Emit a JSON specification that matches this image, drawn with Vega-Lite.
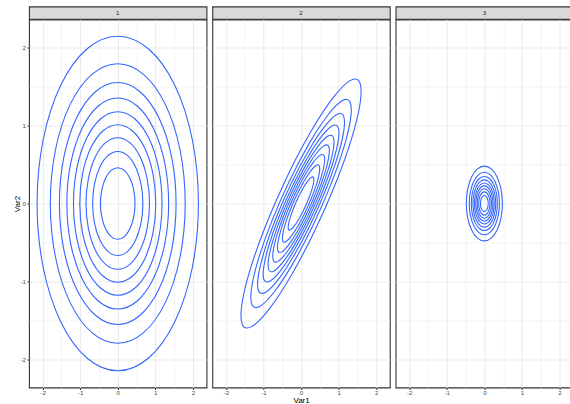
{
  "$schema": "https://vega.github.io/schema/vega-lite/v6.json",
  "padding": {"left": 12, "top": 5.5, "right": 0, "bottom": 0},
  "config": {
    "font": "Liberation Sans",
    "view": {"stroke": "#333333", "strokeWidth": 1.1},
    "axis": {
      "domain": false,
      "grid": true,
      "gridColor": "#EBEBEB",
      "tickColor": "#333333",
      "tickSize": 2,
      "tickWidth": 1,
      "labelFont": "Liberation Sans",
      "labelFontSize": 6.2,
      "labelColor": "#4D4D4D",
      "titleFont": "Liberation Sans",
      "titleFontSize": 8,
      "titleFontWeight": "normal",
      "titleColor": "#000000"
    },
    "axisX": {"labelPadding": 0.3, "titlePadding": 0},
    "axisY": {"labelPadding": 1.5, "titlePadding": 0.7, "titleBaseline": "alphabetic"}
  },
  "datasets": {
    "p1": [
      {"level":1,"i":0,"Var1":2.146,"Var2":0},{"level":1,"i":1,"Var1":1.9826,"Var2":0.8212},{"level":1,"i":2,"Var1":1.5174,"Var2":1.5174},{"level":1,"i":3,"Var1":0.8212,"Var2":1.9826},
      {"level":1,"i":4,"Var1":0,"Var2":2.146},{"level":1,"i":5,"Var1":-0.8212,"Var2":1.9826},{"level":1,"i":6,"Var1":-1.5174,"Var2":1.5174},{"level":1,"i":7,"Var1":-1.9826,"Var2":0.8212},
      {"level":1,"i":8,"Var1":-2.146,"Var2":0},{"level":1,"i":9,"Var1":-1.9826,"Var2":-0.8212},{"level":1,"i":10,"Var1":-1.5174,"Var2":-1.5174},{"level":1,"i":11,"Var1":-0.8212,"Var2":-1.9826},
      {"level":1,"i":12,"Var1":0,"Var2":-2.146},{"level":1,"i":13,"Var1":0.8212,"Var2":-1.9826},{"level":1,"i":14,"Var1":1.5174,"Var2":-1.5174},{"level":1,"i":15,"Var1":1.9826,"Var2":-0.8212},

      {"level":2,"i":0,"Var1":1.7941,"Var2":0},{"level":2,"i":1,"Var1":1.6576,"Var2":0.6866},{"level":2,"i":2,"Var1":1.2687,"Var2":1.2687},{"level":2,"i":3,"Var1":0.6866,"Var2":1.6576},
      {"level":2,"i":4,"Var1":0,"Var2":1.7941},{"level":2,"i":5,"Var1":-0.6866,"Var2":1.6576},{"level":2,"i":6,"Var1":-1.2687,"Var2":1.2687},{"level":2,"i":7,"Var1":-1.6576,"Var2":0.6866},
      {"level":2,"i":8,"Var1":-1.7941,"Var2":0},{"level":2,"i":9,"Var1":-1.6576,"Var2":-0.6866},{"level":2,"i":10,"Var1":-1.2687,"Var2":-1.2687},{"level":2,"i":11,"Var1":-0.6866,"Var2":-1.6576},
      {"level":2,"i":12,"Var1":0,"Var2":-1.7941},{"level":2,"i":13,"Var1":0.6866,"Var2":-1.6576},{"level":2,"i":14,"Var1":1.2687,"Var2":-1.2687},{"level":2,"i":15,"Var1":1.6576,"Var2":-0.6866},

      {"level":3,"i":0,"Var1":1.5518,"Var2":0},{"level":3,"i":1,"Var1":1.4336,"Var2":0.5938},{"level":3,"i":2,"Var1":1.0973,"Var2":1.0973},{"level":3,"i":3,"Var1":0.5938,"Var2":1.4336},
      {"level":3,"i":4,"Var1":0,"Var2":1.5518},{"level":3,"i":5,"Var1":-0.5938,"Var2":1.4336},{"level":3,"i":6,"Var1":-1.0973,"Var2":1.0973},{"level":3,"i":7,"Var1":-1.4336,"Var2":0.5938},
      {"level":3,"i":8,"Var1":-1.5518,"Var2":0},{"level":3,"i":9,"Var1":-1.4336,"Var2":-0.5938},{"level":3,"i":10,"Var1":-1.0973,"Var2":-1.0973},{"level":3,"i":11,"Var1":-0.5938,"Var2":-1.4336},
      {"level":3,"i":12,"Var1":0,"Var2":-1.5518},{"level":3,"i":13,"Var1":0.5938,"Var2":-1.4336},{"level":3,"i":14,"Var1":1.0973,"Var2":-1.0973},{"level":3,"i":15,"Var1":1.4336,"Var2":-0.5938},

      {"level":4,"i":0,"Var1":1.3537,"Var2":0},{"level":4,"i":1,"Var1":1.2507,"Var2":0.518},{"level":4,"i":2,"Var1":0.9572,"Var2":0.9572},{"level":4,"i":3,"Var1":0.518,"Var2":1.2507},
      {"level":4,"i":4,"Var1":0,"Var2":1.3537},{"level":4,"i":5,"Var1":-0.518,"Var2":1.2507},{"level":4,"i":6,"Var1":-0.9572,"Var2":0.9572},{"level":4,"i":7,"Var1":-1.2507,"Var2":0.518},
      {"level":4,"i":8,"Var1":-1.3537,"Var2":0},{"level":4,"i":9,"Var1":-1.2507,"Var2":-0.518},{"level":4,"i":10,"Var1":-0.9572,"Var2":-0.9572},{"level":4,"i":11,"Var1":-0.518,"Var2":-1.2507},
      {"level":4,"i":12,"Var1":0,"Var2":-1.3537},{"level":4,"i":13,"Var1":0.518,"Var2":-1.2507},{"level":4,"i":14,"Var1":0.9572,"Var2":-0.9572},{"level":4,"i":15,"Var1":1.2507,"Var2":-0.518},

      {"level":5,"i":0,"Var1":1.1774,"Var2":0},{"level":5,"i":1,"Var1":1.0878,"Var2":0.4506},{"level":5,"i":2,"Var1":0.8326,"Var2":0.8326},{"level":5,"i":3,"Var1":0.4506,"Var2":1.0878},
      {"level":5,"i":4,"Var1":0,"Var2":1.1774},{"level":5,"i":5,"Var1":-0.4506,"Var2":1.0878},{"level":5,"i":6,"Var1":-0.8326,"Var2":0.8326},{"level":5,"i":7,"Var1":-1.0878,"Var2":0.4506},
      {"level":5,"i":8,"Var1":-1.1774,"Var2":0},{"level":5,"i":9,"Var1":-1.0878,"Var2":-0.4506},{"level":5,"i":10,"Var1":-0.8326,"Var2":-0.8326},{"level":5,"i":11,"Var1":-0.4506,"Var2":-1.0878},
      {"level":5,"i":12,"Var1":0,"Var2":-1.1774},{"level":5,"i":13,"Var1":0.4506,"Var2":-1.0878},{"level":5,"i":14,"Var1":0.8326,"Var2":-0.8326},{"level":5,"i":15,"Var1":1.0878,"Var2":-0.4506},

      {"level":6,"i":0,"Var1":1.0108,"Var2":0},{"level":6,"i":1,"Var1":0.9338,"Var2":0.3868},{"level":6,"i":2,"Var1":0.7147,"Var2":0.7147},{"level":6,"i":3,"Var1":0.3868,"Var2":0.9338},
      {"level":6,"i":4,"Var1":0,"Var2":1.0108},{"level":6,"i":5,"Var1":-0.3868,"Var2":0.9338},{"level":6,"i":6,"Var1":-0.7147,"Var2":0.7147},{"level":6,"i":7,"Var1":-0.9338,"Var2":0.3868},
      {"level":6,"i":8,"Var1":-1.0108,"Var2":0},{"level":6,"i":9,"Var1":-0.9338,"Var2":-0.3868},{"level":6,"i":10,"Var1":-0.7147,"Var2":-0.7147},{"level":6,"i":11,"Var1":-0.3868,"Var2":-0.9338},
      {"level":6,"i":12,"Var1":0,"Var2":-1.0108},{"level":6,"i":13,"Var1":0.3868,"Var2":-0.9338},{"level":6,"i":14,"Var1":0.7147,"Var2":-0.7147},{"level":6,"i":15,"Var1":0.9338,"Var2":-0.3868},

      {"level":7,"i":0,"Var1":0.8446,"Var2":0},{"level":7,"i":1,"Var1":0.7803,"Var2":0.3232},{"level":7,"i":2,"Var1":0.5972,"Var2":0.5972},{"level":7,"i":3,"Var1":0.3232,"Var2":0.7803},
      {"level":7,"i":4,"Var1":0,"Var2":0.8446},{"level":7,"i":5,"Var1":-0.3232,"Var2":0.7803},{"level":7,"i":6,"Var1":-0.5972,"Var2":0.5972},{"level":7,"i":7,"Var1":-0.7803,"Var2":0.3232},
      {"level":7,"i":8,"Var1":-0.8446,"Var2":0},{"level":7,"i":9,"Var1":-0.7803,"Var2":-0.3232},{"level":7,"i":10,"Var1":-0.5972,"Var2":-0.5972},{"level":7,"i":11,"Var1":-0.3232,"Var2":-0.7803},
      {"level":7,"i":12,"Var1":0,"Var2":-0.8446},{"level":7,"i":13,"Var1":0.3232,"Var2":-0.7803},{"level":7,"i":14,"Var1":0.5972,"Var2":-0.5972},{"level":7,"i":15,"Var1":0.7803,"Var2":-0.3232},

      {"level":8,"i":0,"Var1":0.6681,"Var2":0},{"level":8,"i":1,"Var1":0.6172,"Var2":0.2556},{"level":8,"i":2,"Var1":0.4724,"Var2":0.4724},{"level":8,"i":3,"Var1":0.2556,"Var2":0.6172},
      {"level":8,"i":4,"Var1":0,"Var2":0.6681},{"level":8,"i":5,"Var1":-0.2556,"Var2":0.6172},{"level":8,"i":6,"Var1":-0.4724,"Var2":0.4724},{"level":8,"i":7,"Var1":-0.6172,"Var2":0.2556},
      {"level":8,"i":8,"Var1":-0.6681,"Var2":0},{"level":8,"i":9,"Var1":-0.6172,"Var2":-0.2556},{"level":8,"i":10,"Var1":-0.4724,"Var2":-0.4724},{"level":8,"i":11,"Var1":-0.2556,"Var2":-0.6172},
      {"level":8,"i":12,"Var1":0,"Var2":-0.6681},{"level":8,"i":13,"Var1":0.2556,"Var2":-0.6172},{"level":8,"i":14,"Var1":0.4724,"Var2":-0.4724},{"level":8,"i":15,"Var1":0.6172,"Var2":-0.2556},

      {"level":9,"i":0,"Var1":0.459,"Var2":0},{"level":9,"i":1,"Var1":0.4241,"Var2":0.1757},{"level":9,"i":2,"Var1":0.3246,"Var2":0.3246},{"level":9,"i":3,"Var1":0.1757,"Var2":0.4241},
      {"level":9,"i":4,"Var1":0,"Var2":0.459},{"level":9,"i":5,"Var1":-0.1757,"Var2":0.4241},{"level":9,"i":6,"Var1":-0.3246,"Var2":0.3246},{"level":9,"i":7,"Var1":-0.4241,"Var2":0.1757},
      {"level":9,"i":8,"Var1":-0.459,"Var2":0},{"level":9,"i":9,"Var1":-0.4241,"Var2":-0.1757},{"level":9,"i":10,"Var1":-0.3246,"Var2":-0.3246},{"level":9,"i":11,"Var1":-0.1757,"Var2":-0.4241},
      {"level":9,"i":12,"Var1":0,"Var2":-0.459},{"level":9,"i":13,"Var1":0.1757,"Var2":-0.4241},{"level":9,"i":14,"Var1":0.3246,"Var2":-0.3246},{"level":9,"i":15,"Var1":0.4241,"Var2":-0.1757}
    ],
    "p2": [
      {"level":1,"i":0,"Var1":1.5583,"Var2":1.5583},{"level":1,"i":1,"Var1":1.3028,"Var2":1.5765},{"level":1,"i":2,"Var1":0.8491,"Var2":1.3547},{"level":1,"i":3,"Var1":0.266,"Var2":0.9266},
      {"level":1,"i":4,"Var1":-0.3575,"Var2":0.3575},{"level":1,"i":5,"Var1":-0.9266,"Var2":-0.266},{"level":1,"i":6,"Var1":-1.3547,"Var2":-0.8491},{"level":1,"i":7,"Var1":-1.5765,"Var2":-1.3028},
      {"level":1,"i":8,"Var1":-1.5583,"Var2":-1.5583},{"level":1,"i":9,"Var1":-1.3028,"Var2":-1.5765},{"level":1,"i":10,"Var1":-0.8491,"Var2":-1.3547},{"level":1,"i":11,"Var1":-0.266,"Var2":-0.9266},
      {"level":1,"i":12,"Var1":0.3575,"Var2":-0.3575},{"level":1,"i":13,"Var1":0.9266,"Var2":0.266},{"level":1,"i":14,"Var1":1.3547,"Var2":0.8491},{"level":1,"i":15,"Var1":1.5765,"Var2":1.3028},

      {"level":2,"i":0,"Var1":1.3028,"Var2":1.3028},{"level":2,"i":1,"Var1":1.0892,"Var2":1.318},{"level":2,"i":2,"Var1":0.7099,"Var2":1.1325},{"level":2,"i":3,"Var1":0.2224,"Var2":0.7747},
      {"level":2,"i":4,"Var1":-0.2989,"Var2":0.2989},{"level":2,"i":5,"Var1":-0.7747,"Var2":-0.2224},{"level":2,"i":6,"Var1":-1.1325,"Var2":-0.7099},{"level":2,"i":7,"Var1":-1.318,"Var2":-1.0892},
      {"level":2,"i":8,"Var1":-1.3028,"Var2":-1.3028},{"level":2,"i":9,"Var1":-1.0892,"Var2":-1.318},{"level":2,"i":10,"Var1":-0.7099,"Var2":-1.1325},{"level":2,"i":11,"Var1":-0.2224,"Var2":-0.7747},
      {"level":2,"i":12,"Var1":0.2989,"Var2":-0.2989},{"level":2,"i":13,"Var1":0.7747,"Var2":0.2224},{"level":2,"i":14,"Var1":1.1325,"Var2":0.7099},{"level":2,"i":15,"Var1":1.318,"Var2":1.0892},

      {"level":3,"i":0,"Var1":1.1268,"Var2":1.1268},{"level":3,"i":1,"Var1":0.9421,"Var2":1.1399},{"level":3,"i":2,"Var1":0.614,"Var2":0.9796},{"level":3,"i":3,"Var1":0.1924,"Var2":0.67},
      {"level":3,"i":4,"Var1":-0.2585,"Var2":0.2585},{"level":3,"i":5,"Var1":-0.67,"Var2":-0.1924},{"level":3,"i":6,"Var1":-0.9796,"Var2":-0.614},{"level":3,"i":7,"Var1":-1.1399,"Var2":-0.9421},
      {"level":3,"i":8,"Var1":-1.1268,"Var2":-1.1268},{"level":3,"i":9,"Var1":-0.9421,"Var2":-1.1399},{"level":3,"i":10,"Var1":-0.614,"Var2":-0.9796},{"level":3,"i":11,"Var1":-0.1924,"Var2":-0.67},
      {"level":3,"i":12,"Var1":0.2585,"Var2":-0.2585},{"level":3,"i":13,"Var1":0.67,"Var2":0.1924},{"level":3,"i":14,"Var1":0.9796,"Var2":0.614},{"level":3,"i":15,"Var1":1.1399,"Var2":0.9421},

      {"level":4,"i":0,"Var1":0.983,"Var2":0.983},{"level":4,"i":1,"Var1":0.8219,"Var2":0.9945},{"level":4,"i":2,"Var1":0.5356,"Var2":0.8545},{"level":4,"i":3,"Var1":0.1678,"Var2":0.5845},
      {"level":4,"i":4,"Var1":-0.2255,"Var2":0.2255},{"level":4,"i":5,"Var1":-0.5845,"Var2":-0.1678},{"level":4,"i":6,"Var1":-0.8545,"Var2":-0.5356},{"level":4,"i":7,"Var1":-0.9945,"Var2":-0.8219},
      {"level":4,"i":8,"Var1":-0.983,"Var2":-0.983},{"level":4,"i":9,"Var1":-0.8219,"Var2":-0.9945},{"level":4,"i":10,"Var1":-0.5356,"Var2":-0.8545},{"level":4,"i":11,"Var1":-0.1678,"Var2":-0.5845},
      {"level":4,"i":12,"Var1":0.2255,"Var2":-0.2255},{"level":4,"i":13,"Var1":0.5845,"Var2":0.1678},{"level":4,"i":14,"Var1":0.8545,"Var2":0.5356},{"level":4,"i":15,"Var1":0.9945,"Var2":0.8219},

      {"level":5,"i":0,"Var1":0.855,"Var2":0.855},{"level":5,"i":1,"Var1":0.7148,"Var2":0.8649},{"level":5,"i":2,"Var1":0.4659,"Var2":0.7432},{"level":5,"i":3,"Var1":0.146,"Var2":0.5084},
      {"level":5,"i":4,"Var1":-0.1961,"Var2":0.1961},{"level":5,"i":5,"Var1":-0.5084,"Var2":-0.146},{"level":5,"i":6,"Var1":-0.7432,"Var2":-0.4659},{"level":5,"i":7,"Var1":-0.8649,"Var2":-0.7148},
      {"level":5,"i":8,"Var1":-0.855,"Var2":-0.855},{"level":5,"i":9,"Var1":-0.7148,"Var2":-0.8649},{"level":5,"i":10,"Var1":-0.4659,"Var2":-0.7432},{"level":5,"i":11,"Var1":-0.146,"Var2":-0.5084},
      {"level":5,"i":12,"Var1":0.1961,"Var2":-0.1961},{"level":5,"i":13,"Var1":0.5084,"Var2":0.146},{"level":5,"i":14,"Var1":0.7432,"Var2":0.4659},{"level":5,"i":15,"Var1":0.8649,"Var2":0.7148},

      {"level":6,"i":0,"Var1":0.7339,"Var2":0.7339},{"level":6,"i":1,"Var1":0.6136,"Var2":0.7425},{"level":6,"i":2,"Var1":0.3999,"Var2":0.638},{"level":6,"i":3,"Var1":0.1253,"Var2":0.4364},
      {"level":6,"i":4,"Var1":-0.1684,"Var2":0.1684},{"level":6,"i":5,"Var1":-0.4364,"Var2":-0.1253},{"level":6,"i":6,"Var1":-0.638,"Var2":-0.3999},{"level":6,"i":7,"Var1":-0.7425,"Var2":-0.6136},
      {"level":6,"i":8,"Var1":-0.7339,"Var2":-0.7339},{"level":6,"i":9,"Var1":-0.6136,"Var2":-0.7425},{"level":6,"i":10,"Var1":-0.3999,"Var2":-0.638},{"level":6,"i":11,"Var1":-0.1253,"Var2":-0.4364},
      {"level":6,"i":12,"Var1":0.1684,"Var2":-0.1684},{"level":6,"i":13,"Var1":0.4364,"Var2":0.1253},{"level":6,"i":14,"Var1":0.638,"Var2":0.3999},{"level":6,"i":15,"Var1":0.7425,"Var2":0.6136},

      {"level":7,"i":0,"Var1":0.6133,"Var2":0.6133},{"level":7,"i":1,"Var1":0.5128,"Var2":0.6205},{"level":7,"i":2,"Var1":0.3342,"Var2":0.5332},{"level":7,"i":3,"Var1":0.1047,"Var2":0.3647},
      {"level":7,"i":4,"Var1":-0.1407,"Var2":0.1407},{"level":7,"i":5,"Var1":-0.3647,"Var2":-0.1047},{"level":7,"i":6,"Var1":-0.5332,"Var2":-0.3342},{"level":7,"i":7,"Var1":-0.6205,"Var2":-0.5128},
      {"level":7,"i":8,"Var1":-0.6133,"Var2":-0.6133},{"level":7,"i":9,"Var1":-0.5128,"Var2":-0.6205},{"level":7,"i":10,"Var1":-0.3342,"Var2":-0.5332},{"level":7,"i":11,"Var1":-0.1047,"Var2":-0.3647},
      {"level":7,"i":12,"Var1":0.1407,"Var2":-0.1407},{"level":7,"i":13,"Var1":0.3647,"Var2":0.1047},{"level":7,"i":14,"Var1":0.5332,"Var2":0.3342},{"level":7,"i":15,"Var1":0.6205,"Var2":0.5128},

      {"level":8,"i":0,"Var1":0.4851,"Var2":0.4851},{"level":8,"i":1,"Var1":0.4056,"Var2":0.4908},{"level":8,"i":2,"Var1":0.2643,"Var2":0.4217},{"level":8,"i":3,"Var1":0.0828,"Var2":0.2885},
      {"level":8,"i":4,"Var1":-0.1113,"Var2":0.1113},{"level":8,"i":5,"Var1":-0.2885,"Var2":-0.0828},{"level":8,"i":6,"Var1":-0.4217,"Var2":-0.2643},{"level":8,"i":7,"Var1":-0.4908,"Var2":-0.4056},
      {"level":8,"i":8,"Var1":-0.4851,"Var2":-0.4851},{"level":8,"i":9,"Var1":-0.4056,"Var2":-0.4908},{"level":8,"i":10,"Var1":-0.2643,"Var2":-0.4217},{"level":8,"i":11,"Var1":-0.0828,"Var2":-0.2885},
      {"level":8,"i":12,"Var1":0.1113,"Var2":-0.1113},{"level":8,"i":13,"Var1":0.2885,"Var2":0.0828},{"level":8,"i":14,"Var1":0.4217,"Var2":0.2643},{"level":8,"i":15,"Var1":0.4908,"Var2":0.4056},

      {"level":9,"i":0,"Var1":0.3333,"Var2":0.3333},{"level":9,"i":1,"Var1":0.2787,"Var2":0.3372},{"level":9,"i":2,"Var1":0.1816,"Var2":0.2898},{"level":9,"i":3,"Var1":0.0569,"Var2":0.1982},
      {"level":9,"i":4,"Var1":-0.0765,"Var2":0.0765},{"level":9,"i":5,"Var1":-0.1982,"Var2":-0.0569},{"level":9,"i":6,"Var1":-0.2898,"Var2":-0.1816},{"level":9,"i":7,"Var1":-0.3372,"Var2":-0.2787},
      {"level":9,"i":8,"Var1":-0.3333,"Var2":-0.3333},{"level":9,"i":9,"Var1":-0.2787,"Var2":-0.3372},{"level":9,"i":10,"Var1":-0.1816,"Var2":-0.2898},{"level":9,"i":11,"Var1":-0.0569,"Var2":-0.1982},
      {"level":9,"i":12,"Var1":0.0765,"Var2":-0.0765},{"level":9,"i":13,"Var1":0.1982,"Var2":0.0569},{"level":9,"i":14,"Var1":0.2898,"Var2":0.1816},{"level":9,"i":15,"Var1":0.3372,"Var2":0.2787}
    ],
    "p3": [
      {"level":1,"i":0,"Var1":0.4799,"Var2":0},{"level":1,"i":1,"Var1":0.4433,"Var2":0.1836},{"level":1,"i":2,"Var1":0.3393,"Var2":0.3393},{"level":1,"i":3,"Var1":0.1836,"Var2":0.4433},
      {"level":1,"i":4,"Var1":0,"Var2":0.4799},{"level":1,"i":5,"Var1":-0.1836,"Var2":0.4433},{"level":1,"i":6,"Var1":-0.3393,"Var2":0.3393},{"level":1,"i":7,"Var1":-0.4433,"Var2":0.1836},
      {"level":1,"i":8,"Var1":-0.4799,"Var2":0},{"level":1,"i":9,"Var1":-0.4433,"Var2":-0.1836},{"level":1,"i":10,"Var1":-0.3393,"Var2":-0.3393},{"level":1,"i":11,"Var1":-0.1836,"Var2":-0.4433},
      {"level":1,"i":12,"Var1":0,"Var2":-0.4799},{"level":1,"i":13,"Var1":0.1836,"Var2":-0.4433},{"level":1,"i":14,"Var1":0.3393,"Var2":-0.3393},{"level":1,"i":15,"Var1":0.4433,"Var2":-0.1836},

      {"level":2,"i":0,"Var1":0.4012,"Var2":0},{"level":2,"i":1,"Var1":0.3707,"Var2":0.1535},{"level":2,"i":2,"Var1":0.2837,"Var2":0.2837},{"level":2,"i":3,"Var1":0.1535,"Var2":0.3707},
      {"level":2,"i":4,"Var1":0,"Var2":0.4012},{"level":2,"i":5,"Var1":-0.1535,"Var2":0.3707},{"level":2,"i":6,"Var1":-0.2837,"Var2":0.2837},{"level":2,"i":7,"Var1":-0.3707,"Var2":0.1535},
      {"level":2,"i":8,"Var1":-0.4012,"Var2":0},{"level":2,"i":9,"Var1":-0.3707,"Var2":-0.1535},{"level":2,"i":10,"Var1":-0.2837,"Var2":-0.2837},{"level":2,"i":11,"Var1":-0.1535,"Var2":-0.3707},
      {"level":2,"i":12,"Var1":0,"Var2":-0.4012},{"level":2,"i":13,"Var1":0.1535,"Var2":-0.3707},{"level":2,"i":14,"Var1":0.2837,"Var2":-0.2837},{"level":2,"i":15,"Var1":0.3707,"Var2":-0.1535},

      {"level":3,"i":0,"Var1":0.347,"Var2":0},{"level":3,"i":1,"Var1":0.3206,"Var2":0.1328},{"level":3,"i":2,"Var1":0.2454,"Var2":0.2454},{"level":3,"i":3,"Var1":0.1328,"Var2":0.3206},
      {"level":3,"i":4,"Var1":0,"Var2":0.347},{"level":3,"i":5,"Var1":-0.1328,"Var2":0.3206},{"level":3,"i":6,"Var1":-0.2454,"Var2":0.2454},{"level":3,"i":7,"Var1":-0.3206,"Var2":0.1328},
      {"level":3,"i":8,"Var1":-0.347,"Var2":0},{"level":3,"i":9,"Var1":-0.3206,"Var2":-0.1328},{"level":3,"i":10,"Var1":-0.2454,"Var2":-0.2454},{"level":3,"i":11,"Var1":-0.1328,"Var2":-0.3206},
      {"level":3,"i":12,"Var1":0,"Var2":-0.347},{"level":3,"i":13,"Var1":0.1328,"Var2":-0.3206},{"level":3,"i":14,"Var1":0.2454,"Var2":-0.2454},{"level":3,"i":15,"Var1":0.3206,"Var2":-0.1328},

      {"level":4,"i":0,"Var1":0.3027,"Var2":0},{"level":4,"i":1,"Var1":0.2797,"Var2":0.1158},{"level":4,"i":2,"Var1":0.214,"Var2":0.214},{"level":4,"i":3,"Var1":0.1158,"Var2":0.2797},
      {"level":4,"i":4,"Var1":0,"Var2":0.3027},{"level":4,"i":5,"Var1":-0.1158,"Var2":0.2797},{"level":4,"i":6,"Var1":-0.214,"Var2":0.214},{"level":4,"i":7,"Var1":-0.2797,"Var2":0.1158},
      {"level":4,"i":8,"Var1":-0.3027,"Var2":0},{"level":4,"i":9,"Var1":-0.2797,"Var2":-0.1158},{"level":4,"i":10,"Var1":-0.214,"Var2":-0.214},{"level":4,"i":11,"Var1":-0.1158,"Var2":-0.2797},
      {"level":4,"i":12,"Var1":0,"Var2":-0.3027},{"level":4,"i":13,"Var1":0.1158,"Var2":-0.2797},{"level":4,"i":14,"Var1":0.214,"Var2":-0.214},{"level":4,"i":15,"Var1":0.2797,"Var2":-0.1158},

      {"level":5,"i":0,"Var1":0.2633,"Var2":0},{"level":5,"i":1,"Var1":0.2432,"Var2":0.1008},{"level":5,"i":2,"Var1":0.1862,"Var2":0.1862},{"level":5,"i":3,"Var1":0.1008,"Var2":0.2432},
      {"level":5,"i":4,"Var1":0,"Var2":0.2633},{"level":5,"i":5,"Var1":-0.1008,"Var2":0.2432},{"level":5,"i":6,"Var1":-0.1862,"Var2":0.1862},{"level":5,"i":7,"Var1":-0.2432,"Var2":0.1008},
      {"level":5,"i":8,"Var1":-0.2633,"Var2":0},{"level":5,"i":9,"Var1":-0.2432,"Var2":-0.1008},{"level":5,"i":10,"Var1":-0.1862,"Var2":-0.1862},{"level":5,"i":11,"Var1":-0.1008,"Var2":-0.2432},
      {"level":5,"i":12,"Var1":0,"Var2":-0.2633},{"level":5,"i":13,"Var1":0.1008,"Var2":-0.2432},{"level":5,"i":14,"Var1":0.1862,"Var2":-0.1862},{"level":5,"i":15,"Var1":0.2432,"Var2":-0.1008},

      {"level":6,"i":0,"Var1":0.226,"Var2":0},{"level":6,"i":1,"Var1":0.2088,"Var2":0.0865},{"level":6,"i":2,"Var1":0.1598,"Var2":0.1598},{"level":6,"i":3,"Var1":0.0865,"Var2":0.2088},
      {"level":6,"i":4,"Var1":0,"Var2":0.226},{"level":6,"i":5,"Var1":-0.0865,"Var2":0.2088},{"level":6,"i":6,"Var1":-0.1598,"Var2":0.1598},{"level":6,"i":7,"Var1":-0.2088,"Var2":0.0865},
      {"level":6,"i":8,"Var1":-0.226,"Var2":0},{"level":6,"i":9,"Var1":-0.2088,"Var2":-0.0865},{"level":6,"i":10,"Var1":-0.1598,"Var2":-0.1598},{"level":6,"i":11,"Var1":-0.0865,"Var2":-0.2088},
      {"level":6,"i":12,"Var1":0,"Var2":-0.226},{"level":6,"i":13,"Var1":0.0865,"Var2":-0.2088},{"level":6,"i":14,"Var1":0.1598,"Var2":-0.1598},{"level":6,"i":15,"Var1":0.2088,"Var2":-0.0865},

      {"level":7,"i":0,"Var1":0.1889,"Var2":0},{"level":7,"i":1,"Var1":0.1745,"Var2":0.0723},{"level":7,"i":2,"Var1":0.1335,"Var2":0.1335},{"level":7,"i":3,"Var1":0.0723,"Var2":0.1745},
      {"level":7,"i":4,"Var1":0,"Var2":0.1889},{"level":7,"i":5,"Var1":-0.0723,"Var2":0.1745},{"level":7,"i":6,"Var1":-0.1335,"Var2":0.1335},{"level":7,"i":7,"Var1":-0.1745,"Var2":0.0723},
      {"level":7,"i":8,"Var1":-0.1889,"Var2":0},{"level":7,"i":9,"Var1":-0.1745,"Var2":-0.0723},{"level":7,"i":10,"Var1":-0.1335,"Var2":-0.1335},{"level":7,"i":11,"Var1":-0.0723,"Var2":-0.1745},
      {"level":7,"i":12,"Var1":0,"Var2":-0.1889},{"level":7,"i":13,"Var1":0.0723,"Var2":-0.1745},{"level":7,"i":14,"Var1":0.1335,"Var2":-0.1335},{"level":7,"i":15,"Var1":0.1745,"Var2":-0.0723},

      {"level":8,"i":0,"Var1":0.1494,"Var2":0},{"level":8,"i":1,"Var1":0.138,"Var2":0.0572},{"level":8,"i":2,"Var1":0.1056,"Var2":0.1056},{"level":8,"i":3,"Var1":0.0572,"Var2":0.138},
      {"level":8,"i":4,"Var1":0,"Var2":0.1494},{"level":8,"i":5,"Var1":-0.0572,"Var2":0.138},{"level":8,"i":6,"Var1":-0.1056,"Var2":0.1056},{"level":8,"i":7,"Var1":-0.138,"Var2":0.0572},
      {"level":8,"i":8,"Var1":-0.1494,"Var2":0},{"level":8,"i":9,"Var1":-0.138,"Var2":-0.0572},{"level":8,"i":10,"Var1":-0.1056,"Var2":-0.1056},{"level":8,"i":11,"Var1":-0.0572,"Var2":-0.138},
      {"level":8,"i":12,"Var1":0,"Var2":-0.1494},{"level":8,"i":13,"Var1":0.0572,"Var2":-0.138},{"level":8,"i":14,"Var1":0.1056,"Var2":-0.1056},{"level":8,"i":15,"Var1":0.138,"Var2":-0.0572},

      {"level":9,"i":0,"Var1":0.1027,"Var2":0},{"level":9,"i":1,"Var1":0.0948,"Var2":0.0393},{"level":9,"i":2,"Var1":0.0726,"Var2":0.0726},{"level":9,"i":3,"Var1":0.0393,"Var2":0.0948},
      {"level":9,"i":4,"Var1":0,"Var2":0.1027},{"level":9,"i":5,"Var1":-0.0393,"Var2":0.0948},{"level":9,"i":6,"Var1":-0.0726,"Var2":0.0726},{"level":9,"i":7,"Var1":-0.0948,"Var2":0.0393},
      {"level":9,"i":8,"Var1":-0.1027,"Var2":0},{"level":9,"i":9,"Var1":-0.0948,"Var2":-0.0393},{"level":9,"i":10,"Var1":-0.0726,"Var2":-0.0726},{"level":9,"i":11,"Var1":-0.0393,"Var2":-0.0948},
      {"level":9,"i":12,"Var1":0,"Var2":-0.1027},{"level":9,"i":13,"Var1":0.0393,"Var2":-0.0948},{"level":9,"i":14,"Var1":0.0726,"Var2":-0.0726},{"level":9,"i":15,"Var1":0.0948,"Var2":-0.0393}
    ]
  },
  "spacing": 3.3,
  "hconcat": [
    {
      "spacing": -1,
      "vconcat": [
        {
          "width": 177.5, "height": 12.3,
          "data": {"values": [{"panel": "1"}]},
          "mark": {"type": "text", "fontSize": 6.2, "color": "#1A1A1A", "baseline": "middle", "align": "center"},
          "encoding": {"text": {"field": "panel", "type": "nominal"}},
          "view": {"fill": "#D9D9D9", "stroke": "#333333", "strokeWidth": 1.1}
        },
        {
          "width": 177.5, "height": 368,
          "data": {"name": "p1"},
          "mark": {"type": "line", "interpolate": "cardinal-closed", "color": "#3366FF", "strokeWidth": 1.1},
          "encoding": {
            "x": {"field": "Var1", "type": "quantitative",
              "scale": {"domain": [-2.361, 2.361], "nice": false, "zero": false},
              "axis": {"title": null, "values": [-2, -1.5, -1, -0.5, 0, 0.5, 1, 1.5, 2], "labelOverlap": false,
                "labelExpr": "datum.value % 1 != 0 ? '' : toString(datum.value)",
                "gridWidth": {"condition": {"test": "datum.value % 1 != 0", "value": 0.55}, "value": 1.1},
                "tickOpacity": {"condition": {"test": "datum.value % 1 != 0", "value": 0}, "value": 1}}},
            "y": {"field": "Var2", "type": "quantitative",
              "scale": {"domain": [-2.361, 2.361], "nice": false, "zero": false},
              "axis": {"title": "Var2", "values": [-2, -1.5, -1, -0.5, 0, 0.5, 1, 1.5, 2], "labelOverlap": false,
                "labelExpr": "datum.value % 1 != 0 ? '' : toString(datum.value)",
                "gridWidth": {"condition": {"test": "datum.value % 1 != 0", "value": 0.55}, "value": 1.1},
                "tickOpacity": {"condition": {"test": "datum.value % 1 != 0", "value": 0}, "value": 1}}},
            "detail": {"field": "level", "type": "nominal"},
            "order": {"field": "i", "type": "quantitative"}
          }
        }
      ]
    },
    {
      "spacing": -1,
      "vconcat": [
        {
          "width": 177.5, "height": 12.3,
          "data": {"values": [{"panel": "2"}]},
          "mark": {"type": "text", "fontSize": 6.2, "color": "#1A1A1A", "baseline": "middle", "align": "center"},
          "encoding": {"text": {"field": "panel", "type": "nominal"}},
          "view": {"fill": "#D9D9D9", "stroke": "#333333", "strokeWidth": 1.1}
        },
        {
          "width": 177.5, "height": 368,
          "data": {"name": "p2"},
          "mark": {"type": "line", "interpolate": "cardinal-closed", "color": "#3366FF", "strokeWidth": 1.1},
          "encoding": {
            "x": {"field": "Var1", "type": "quantitative",
              "scale": {"domain": [-2.361, 2.361], "nice": false, "zero": false},
              "axis": {"title": "Var1", "values": [-2, -1.5, -1, -0.5, 0, 0.5, 1, 1.5, 2], "labelOverlap": false,
                "labelExpr": "datum.value % 1 != 0 ? '' : toString(datum.value)",
                "gridWidth": {"condition": {"test": "datum.value % 1 != 0", "value": 0.55}, "value": 1.1},
                "tickOpacity": {"condition": {"test": "datum.value % 1 != 0", "value": 0}, "value": 1}}},
            "y": {"field": "Var2", "type": "quantitative",
              "scale": {"domain": [-2.361, 2.361], "nice": false, "zero": false},
              "axis": {"title": null, "labels": false, "ticks": false, "values": [-2, -1.5, -1, -0.5, 0, 0.5, 1, 1.5, 2],
                "gridWidth": {"condition": {"test": "datum.value % 1 != 0", "value": 0.55}, "value": 1.1}}},
            "detail": {"field": "level", "type": "nominal"},
            "order": {"field": "i", "type": "quantitative"}
          }
        }
      ]
    },
    {
      "spacing": -1,
      "vconcat": [
        {
          "width": 177.5, "height": 12.3,
          "data": {"values": [{"panel": "3"}]},
          "mark": {"type": "text", "fontSize": 6.2, "color": "#1A1A1A", "baseline": "middle", "align": "center"},
          "encoding": {"text": {"field": "panel", "type": "nominal"}},
          "view": {"fill": "#D9D9D9", "stroke": "#333333", "strokeWidth": 1.1}
        },
        {
          "width": 177.5, "height": 368,
          "data": {"name": "p3"},
          "mark": {"type": "line", "interpolate": "cardinal-closed", "color": "#3366FF", "strokeWidth": 1.1},
          "encoding": {
            "x": {"field": "Var1", "type": "quantitative",
              "scale": {"domain": [-2.361, 2.361], "nice": false, "zero": false},
              "axis": {"title": null, "values": [-2, -1.5, -1, -0.5, 0, 0.5, 1, 1.5, 2], "labelOverlap": false,
                "labelExpr": "datum.value % 1 != 0 ? '' : toString(datum.value)",
                "gridWidth": {"condition": {"test": "datum.value % 1 != 0", "value": 0.55}, "value": 1.1},
                "tickOpacity": {"condition": {"test": "datum.value % 1 != 0", "value": 0}, "value": 1}}},
            "y": {"field": "Var2", "type": "quantitative",
              "scale": {"domain": [-2.361, 2.361], "nice": false, "zero": false},
              "axis": {"title": null, "labels": false, "ticks": false, "values": [-2, -1.5, -1, -0.5, 0, 0.5, 1, 1.5, 2],
                "gridWidth": {"condition": {"test": "datum.value % 1 != 0", "value": 0.55}, "value": 1.1}}},
            "detail": {"field": "level", "type": "nominal"},
            "order": {"field": "i", "type": "quantitative"}
          }
        }
      ]
    }
  ]
}
